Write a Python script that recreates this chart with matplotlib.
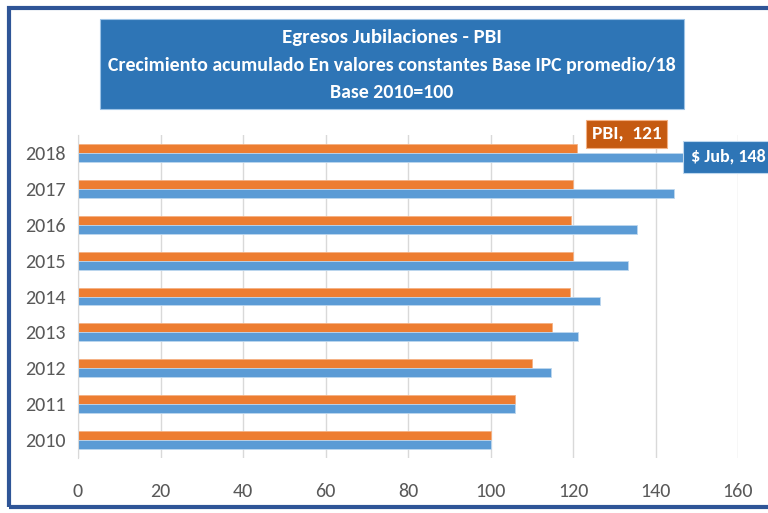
import matplotlib.pyplot as plt
from matplotlib.patches import Rectangle
import numpy as np

# data
years = ["2010", "2011", "2012", "2013", "2014", "2015", "2016", "2017", "2018"]
pbi = [100, 105.9, 110.1, 114.9, 119.2, 120.1, 119.6, 120.1, 121]
jub = [100, 105.9, 114.7, 121.1, 126.6, 133.3, 135.5, 144.4, 148]
xticks = [0, 20, 40, 60, 80, 100, 120, 140, 160]

orange = "#ED7D31"
blue = "#5B9BD5"
box_blue = "#2E75B6"
box_orange = "#C55A11"
plt.rcParams['font.family'] = ['Carlito', 'DejaVu Sans']

fig = plt.figure(figsize=(7.68, 5.13), dpi=100)
W, H = 768, 513

# outer frame (right side cropped in original)
fig.patches.append(Rectangle((9 / W, 6 / H), 1.2, 1 - 14 / H, transform=fig.transFigure,
                             fill=False, edgecolor="#2F5597", linewidth=3))

ax = fig.add_axes([78 / W, 1 - 458 / H, (738 - 78) / W, (458 - 135) / H])
y = np.arange(len(years))
h = 0.25
ax.barh(y + h / 2, pbi, height=h, color=orange, edgecolor="#F4B183", linewidth=0.6)
ax.barh(y - h / 2, jub, height=h, color=blue, edgecolor="#BDD7EE", linewidth=0.6)

ax.set_xlim(0, 160)
ax.set_ylim(-0.5, len(years) - 0.5)
ax.set_xticks(xticks)
ax.set_yticks(y)
ax.set_yticklabels(years)
ax.grid(axis="x", color="#D9D9D9", linewidth=1)
ax.set_axisbelow(True)
for s in ["top", "right", "bottom"]:
    ax.spines[s].set_visible(False)
ax.spines["left"].set_color("#D9D9D9")
ax.tick_params(length=0, labelsize=14.5, labelcolor="#595959", pad=9)
ax.tick_params(axis="x", pad=18)

# data labels for 2018
ax.text(133, 8.53, "PBI,  121", ha="center", va="center", color="white",
        fontsize=14, fontweight="bold", clip_on=False,
        bbox=dict(boxstyle="square,pad=0.3", fc=box_orange, ec="#F4B183", lw=0.8))
ax.text(148.6, 7.89, "$ Jub, 148", ha="left", va="center", color="white",
        fontsize=13, fontweight="bold", clip_on=False,
        bbox=dict(boxstyle="square,pad=0.45", fc=box_blue, ec="#BDD7EE", lw=0.8))

# title box
fig.patches.append(Rectangle((100 / W, 1 - 109 / H), 584 / W, 90 / H, transform=fig.transFigure,
                             facecolor=box_blue, edgecolor="#9DC3E6", linewidth=0.8))
cx = 392 / W
fig.text(cx, 1 - 38 / H, "Egresos Jubilaciones - PBI", ha="center", va="center",
         color="white", fontsize=15, fontweight="bold")
fig.text(cx, 1 - 66 / H, "Crecimiento acumulado En valores constantes Base IPC promedio/18",
         ha="center", va="center", color="white", fontsize=14.3, fontweight="bold")
fig.text(cx, 1 - 93 / H, "Base 2010=100", ha="center", va="center",
         color="white", fontsize=14.3, fontweight="bold")

fig.savefig("out.png", dpi=100)
